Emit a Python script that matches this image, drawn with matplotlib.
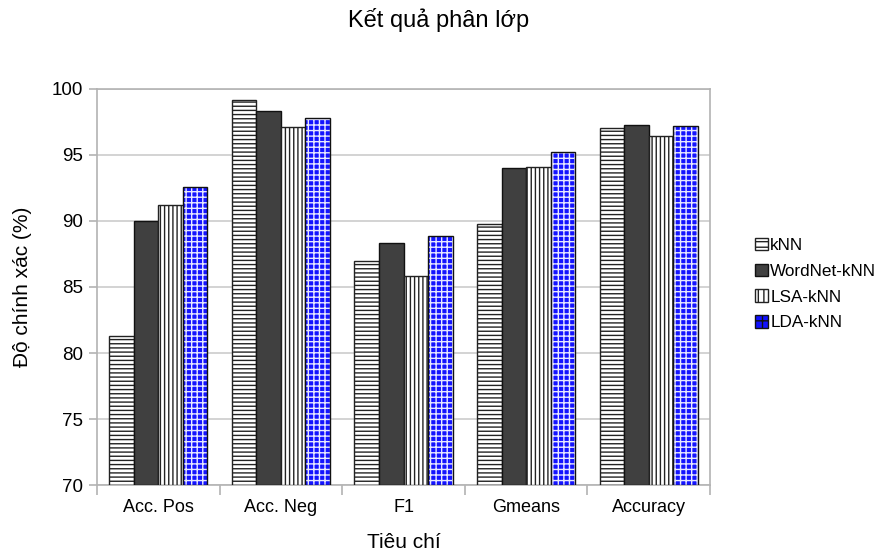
import matplotlib
matplotlib.use("Agg")
import matplotlib.pyplot as plt
import numpy as np
from matplotlib.patches import Patch

plt.rcParams['font.family'] = ['Liberation Sans', 'DejaVu Sans']
plt.rcParams['hatch.linewidth'] = 1.0

categories = ["Acc. Pos", "Acc. Neg", "F1", "Gmeans", "Accuracy"]
series_names = ["kNN", "WordNet-kNN", "LSA-kNN", "LDA-kNN"]
knn = [81.3, 99.2, 87.0, 89.8, 97.05]
wordnet_knn = [90.0, 98.3, 88.3, 94.0, 97.3]
lsa_knn = [91.2, 97.1, 85.8, 94.1, 96.4]
lda_knn = [92.6, 97.8, 88.9, 95.2, 97.2]
yticks = [70, 75, 80, 85, 90, 95, 100]

fig = plt.figure(figsize=(8.77, 5.54), dpi=100)
ax = fig.add_axes([0.1106, 0.1245, 0.6990, 0.7149])

x = np.arange(len(categories))
w = 0.2
base = 70
series = [knn, wordnet_knn, lsa_knn, lda_knn]
offsets = [-1.5, -0.5, 0.5, 1.5]

for i, (vals, off) in enumerate(zip(series, offsets)):
    heights = [v - base for v in vals]
    pos = x + off * w
    if i == 0:
        ax.bar(pos, heights, w, bottom=base, facecolor='white', edgecolor='#222222',
               hatch='----', linewidth=1.0, zorder=3)
    elif i == 1:
        ax.bar(pos, heights, w, bottom=base, facecolor='#404040', edgecolor='#111111',
               linewidth=1.0, zorder=3)
    elif i == 2:
        ax.bar(pos, heights, w, bottom=base, facecolor='white', edgecolor='#222222',
               hatch='||||', linewidth=1.0, zorder=3)
    else:
        ax.bar(pos, heights, w, bottom=base, facecolor='#1414ff', edgecolor='#e8e8ff',
               hatch='+++', linewidth=0, zorder=3)
        ax.bar(pos, heights, w, bottom=base, facecolor='none', edgecolor='#111111',
               linewidth=1.0, zorder=4)

ax.set_xlim(-0.5, len(categories) - 0.5)
ax.set_ylim(70, 100)
ax.set_yticks(yticks)
ax.set_yticklabels([str(t) for t in yticks], fontsize=13.5)
ax.set_xticks(x)
ax.set_xticklabels(categories, fontsize=13)
ax.tick_params(axis='x', which='major', length=0, pad=10)
ax.set_xticks(np.arange(-0.5, len(categories)), minor=True)
ax.tick_params(axis='x', which='minor', length=7, color='#b3b3b3', width=1.2)
ax.tick_params(axis='y', length=6, color='#b3b3b3', width=1.2, pad=4)

ax.grid(axis='y', color='#cccccc', linewidth=1.2, zorder=0)
ax.set_axisbelow(True)
for s in ax.spines.values():
    s.set_color('#b3b3b3')
    s.set_linewidth(1.2)

ax.set_xlabel("Tiêu chí", fontsize=15, labelpad=12)
ax.set_ylabel("Độ chính xác (%)", fontsize=15, labelpad=14)
fig.suptitle("Kết quả phân lớp", fontsize=17, x=0.5, y=0.985)

handles = [
    Patch(facecolor='white', edgecolor='#222222', hatch='---'),
    Patch(facecolor='#404040', edgecolor='#111111'),
    Patch(facecolor='white', edgecolor='#222222', hatch='|||'),
    Patch(facecolor='#1010ff', edgecolor='#111111', hatch='++'),
]
fig.legend(handles, series_names, loc='upper left', bbox_to_anchor=(0.853, 0.583),
           frameon=False, fontsize=12.3, handlelength=0.75, handleheight=0.75,
           handletextpad=0.15, labelspacing=0.62, borderaxespad=0)

fig.savefig("out.png", dpi=100)
